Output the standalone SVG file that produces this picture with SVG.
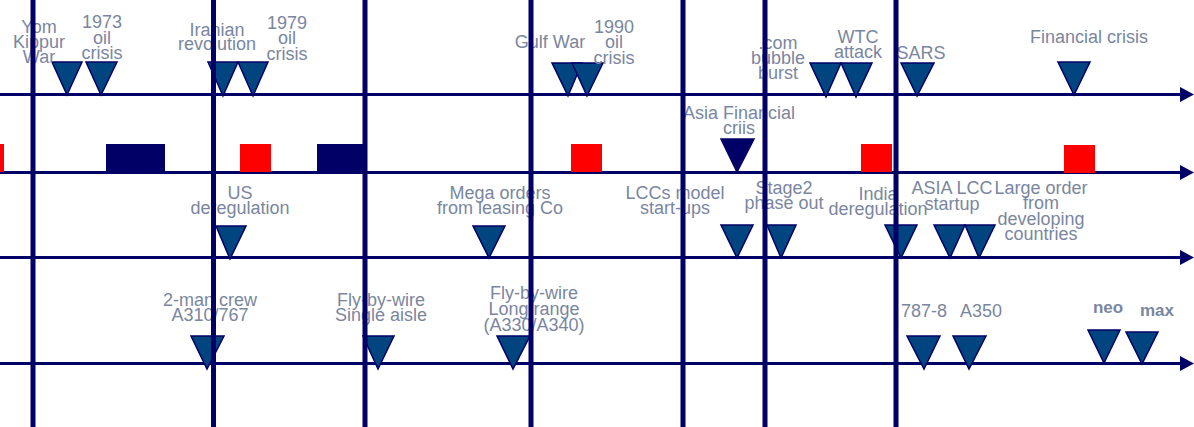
<svg xmlns="http://www.w3.org/2000/svg" width="1194" height="427" viewBox="0 0 1194 427">
<defs>
<style>
.ax{stroke:#000066;stroke-width:3;fill:none}
.vl{stroke:#000066;stroke-width:5}
.tri{fill:#00457f;stroke:#000066;stroke-width:1.5;stroke-linejoin:miter}
.trk{fill:#000066;stroke:#000066;stroke-width:1.5}
.red{fill:#ff0000}
.blk{fill:#000066}
text{font-family:"Liberation Sans",Arial,sans-serif;font-size:18px;fill:#7a86a0;text-anchor:middle}
.b{font-weight:bold;font-size:17px}
</style>
<marker id="arr" markerUnits="userSpaceOnUse" markerWidth="14" markerHeight="15" viewBox="0 0 14 15" refX="0" refY="7.5" orient="auto">
<path d="M0,0 L14,7.5 L0,15 z" fill="#000066"/>
</marker>
</defs>
<rect width="1194" height="427" fill="#ffffff"/>
<g id="connectors">
<line class="ax" x1="0" y1="94.5" x2="1180" y2="94.5" marker-end="url(#arr)"/>
<line class="ax" x1="0" y1="172.5" x2="1180" y2="172.5" marker-end="url(#arr)"/>
<line class="ax" x1="0" y1="257.5" x2="1180" y2="257.5" marker-end="url(#arr)"/>
<line class="ax" x1="0" y1="363.5" x2="1180" y2="363.5" marker-end="url(#arr)"/>
</g>
<g id="periods">
<rect id="p1" class="red" x="-2" y="144" width="6" height="28"/>
<rect id="p2" class="blk" x="106" y="144" width="59" height="28"/>
<rect id="p3" class="red" x="240" y="144" width="31" height="28"/>
<rect id="p4" class="blk" x="317" y="144" width="49" height="28"/>
<rect id="p5" class="red" x="571" y="144" width="31" height="28"/>
<rect id="p6" class="red" x="861" y="144" width="31" height="28"/>
<rect id="p7" class="red" x="1064" y="145" width="31" height="28"/>
</g>
<g id="yom-kippur"><polygon class="tri" points="52,62 82,62 67,95"/><text x="39" y="33">Yom</text><text x="39" y="48">Kippur</text><text x="39" y="63">War</text></g>
<g id="oil-1973"><polygon class="tri" points="86,62 117,62 101,95"/><text x="102" y="28">1973</text><text x="102" y="44">oil</text><text x="102" y="59">crisis</text></g>
<g id="iranian"><polygon class="tri" points="208,62 238,62 223,96"/><text x="217" y="36">Iranian</text><text x="217" y="50">revolution</text></g>
<g id="oil-1979"><polygon class="tri" points="238,62 268,62 253,96"/><text x="287" y="29">1979</text><text x="287" y="44">oil</text><text x="287" y="60">crisis</text></g>
<g id="gulf-war"><polygon class="tri" points="552,63 582,63 568,96"/><text x="550" y="48">Gulf War</text></g>
<g id="oil-1990"><polygon class="tri" points="572,63 603,63 587,96"/><text x="614" y="33">1990</text><text x="614" y="48">oil</text><text x="614" y="64">crisis</text></g>
<g id="dotcom"><polygon class="tri" points="810,63 841,63 826,97"/><text x="778" y="49">.com</text><text x="778" y="64">bubble</text><text x="778" y="79">burst</text></g>
<g id="wtc"><polygon class="tri" points="841,63 872,63 856,97"/><text x="858" y="43">WTC</text><text x="858" y="58">attack</text></g>
<g id="sars"><polygon class="tri" points="901,63 934,63 917,96"/><text x="921" y="59">SARS</text></g>
<g id="fin-crisis"><polygon class="tri" points="1058,62 1090,62 1074,95"/><text x="1089" y="43">Financial crisis</text></g>
<g id="asia-fin"><polygon class="trk" points="721,139 754,139 737,172"/><text x="739" y="119">Asia Financial</text><text x="739" y="134">criis</text></g>
<g id="us-dereg"><polygon class="tri" points="216,226 246,226 230,259"/><text x="240" y="199">US</text><text x="240" y="214">deregulation</text></g>
<g id="mega-orders"><polygon class="tri" points="473,226 505,226 489,258"/><text x="500" y="199">Mega orders</text><text x="500" y="214">from leasing Co</text></g>
<g id="lccs"><polygon class="tri" points="721,225 753,225 737,258"/><text x="675" y="199">LCCs model</text><text x="675" y="214">start-ups</text></g>
<g id="stage2"><polygon class="tri" points="767,225 796,225 781,258"/><text x="784" y="194">Stage2</text><text x="784" y="209">phase out</text></g>
<g id="india"><polygon class="tri" points="885,225 917,225 901,258"/><text x="878" y="200">India</text><text x="878" y="215">deregulation</text></g>
<g id="asia-lcc"><polygon class="tri" points="934,225 965,225 950,258"/><text x="952" y="194">ASIA LCC</text><text x="952" y="210">startup</text></g>
<g id="large-order"><polygon class="tri" points="965,225 995,225 979,258"/><text x="1041" y="194">Large order</text><text x="1041" y="209">from</text><text x="1041" y="225">developing</text><text x="1041" y="240">countries</text></g>
<g id="two-man"><polygon class="tri" points="191,336 224,336 207,369"/><text x="210" y="306">2-man crew</text><text x="210" y="321">A310/767</text></g>
<g id="fbw-sa"><polygon class="tri" points="363,336 394,336 378,369"/><text x="381" y="306">Fly-by-wire</text><text x="381" y="321">Single aisle</text></g>
<g id="fbw-lr"><polygon class="tri" points="497,336 530,336 513,369"/><text x="534" y="299">Fly-by-wire</text><text x="534" y="315">Long range</text><text x="534" y="331">(A330/A340)</text></g>
<g id="b787"><polygon class="tri" points="907,336 940,336 924,369"/><text x="924" y="317">787-8</text></g>
<g id="a350"><polygon class="tri" points="953,336 986,336 969,369"/><text x="981" y="317">A350</text></g>
<g id="neo"><polygon class="tri" points="1088,330 1120,330 1104,363"/><text class="b" x="1108" y="313">neo</text></g>
<g id="max"><polygon class="tri" points="1126,332 1158,332 1142,364"/><text class="b" x="1157" y="316">max</text></g>
<g id="year-dividers">
<line class="vl" x1="33" y1="0" x2="33" y2="427"/>
<line class="vl" x1="213.5" y1="0" x2="213.5" y2="427"/>
<line class="vl" x1="365" y1="0" x2="365" y2="427"/>
<line class="vl" x1="531" y1="0" x2="531" y2="427"/>
<line class="vl" x1="683" y1="0" x2="683" y2="427"/>
<line class="vl" x1="765" y1="0" x2="765" y2="427"/>
<line class="vl" x1="896" y1="0" x2="896" y2="427"/>
</g>
</svg>
